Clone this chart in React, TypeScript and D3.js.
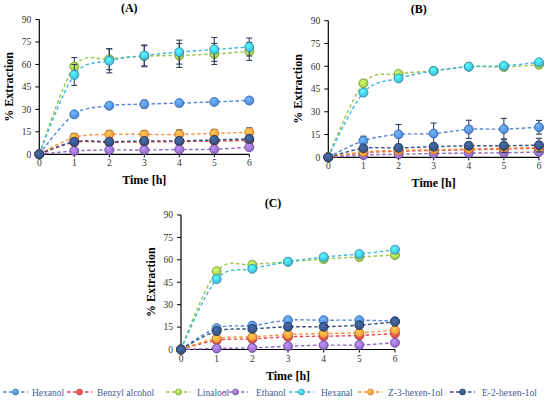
import * as d3 from 'd3';

const hours = [0, 1, 2, 3, 4, 5, 6];
const yTicks = [0, 15, 30, 45, 60, 75, 90];

const compounds = ['Hexanol', 'Benzyl alcohol', 'Linalool', 'Ethanol', 'Hexanal', 'Z-3-hexen-1ol', 'E-2-hexen-1ol'];
const fills = ['#4f86d9', '#e0474c', '#9cc84b', '#8f69c0', '#3fb8e0', '#f7953a', '#34507e'];
const edges = ['#34609f', '#a8343a', '#6f9530', '#654694', '#2a86a8', '#bd6a20', '#1f3150'];

// (A)
const hexanolA = [0, 26.7, 32.4, 33.5, 34.2, 35, 35.9];
const benzylA = [0, 8, 8, 8.3, 8.5, 8.8, 9.3];
const linaloolA = [0, 58.6, 63.5, 65.5, 66, 67, 68.7];
const ethanolA = [0, 2.2, 2.9, 2.9, 3.2, 3.4, 4.7];
const hexanalA = [0, 53, 62.4, 66, 68.2, 70, 71.6];
const z3A = [0, 11.3, 13.3, 13.3, 13.3, 14, 14.7];
const e2A = [0, 8.4, 8.4, 8.9, 9, 9.6, 10.3];

const hexanolErrA = [0, 1, 1, 2.5, 1, 1, 2];
const benzylErrA = [0, 1, 1, 1, 1, 1, 1];
const linaloolErrA = [0, 6, 7, 7, 8, 7, 6];
const ethanolErrA = [0, 0.5, 0.5, 0.5, 0.5, 0.5, 1];
const hexanalErrA = [0, 7, 8, 7, 8, 8, 6];
const z3ErrA = [0, 2.5, 2.5, 2.5, 3, 2.5, 3];
const e2ErrA = [0, 1.5, 1, 1, 1, 1, 1.5];

// (B)
const hexanolB = [0, 10.9, 15.1, 15.6, 18.4, 18.6, 19.8];
const benzylB = [0, 3, 4, 4.5, 5, 5.5, 6];
const linaloolB = [0, 48.7, 54.9, 56.9, 59.7, 59.5, 61];
const ethanolB = [0, 1.5, 2, 2.5, 2.8, 3, 3.5];
const hexanalB = [0, 42.6, 52, 56.9, 59.7, 60.3, 62.6];
const z3B = [0, 3.5, 4.5, 5, 5.5, 6, 6.5];
const e2B = [0, 5.9, 6.2, 7, 7.6, 7.6, 8];

const hexanolErrB = [0, 3, 6.5, 7, 6, 7, 4.5];
const benzylErrB = [0, 1, 1, 1, 1, 1, 1];
const linaloolErrB = [0, 2, 1.5, 1, 1.5, 1.5, 1.5];
const ethanolErrB = [0, 0.5, 0.5, 0.5, 0.5, 0.5, 0.5];
const hexanalErrB = [0, 2, 1.5, 1, 1.5, 1.5, 1.5];
const z3ErrB = [0, 1, 1, 1, 1, 1, 1];
const e2ErrB = [0, 1.5, 1.5, 2, 2, 4.5, 4.5];

// (C)
const hexanolC = [0, 14.3, 16, 19.6, 19.6, 19.6, 19];
const benzylC = [0, 6.2, 7.1, 8.5, 8.9, 9.4, 10.7];
const linaloolC = [0, 52.3, 56.7, 58.7, 60.5, 61.9, 63.2];
const ethanolC = [0, 0.7, 1.1, 2.2, 2.9, 3, 4.5];
const hexanalC = [0, 47.1, 54, 58.7, 61.9, 63.9, 66.8];
const z3C = [0, 7.4, 8.5, 10, 10.7, 11.2, 12.9];
const e2C = [0, 12.3, 13.8, 15.2, 15.2, 16.3, 18.5];

const hexanolErrC = [0, 1, 1, 1, 1, 1, 1];
const benzylErrC = [0, 1, 1, 1, 1, 1, 1];
const linaloolErrC = [0, 1, 1, 1, 1, 1, 1];
const ethanolErrC = [0, 0.5, 0.5, 0.5, 0.5, 0.5, 0.5];
const hexanalErrC = [0, 1, 1, 1, 1, 1, 1];
const z3ErrC = [0, 1, 1, 1, 1, 1, 1];
const e2ErrC = [0, 1, 1.5, 1, 1, 1, 1.5];

const serif = "'Liberation Serif', 'DejaVu Serif', serif";
const errColor = '#2f3f5e';

type Frame = { left: number; right: number; top: number; bottom: number };

interface PanelProps {
  title: string;
  frame: Frame;
  values: number[][];
  errors: number[][];
}

function Panel({ title, frame, values, errors }: PanelProps) {
  const x = d3.scaleLinear().domain([0, 6]).range([frame.left, frame.right]);
  const y = d3.scaleLinear().domain([0, 90]).range([frame.bottom, frame.top]);
  const line = d3
    .line<number>()
    .x((_, i) => x(hours[i]))
    .y((d) => y(d))
    .curve(d3.curveCardinal.tension(0));
  const midX = (frame.left + frame.right) / 2;
  const midY = (frame.top + frame.bottom) / 2;

  return (
    <g fontFamily={serif}>
      <text x={midX - 15} y={frame.top - 8} textAnchor="middle" fontWeight="bold" fontSize={12}>
        {title}
      </text>

      {/* axes */}
      <line x1={frame.left} x2={frame.left} y1={y(90)} y2={y(0)} stroke="#000" strokeWidth={1.2} />
      <line x1={frame.left} x2={x(6)} y1={y(0)} y2={y(0)} stroke="#000" strokeWidth={1.2} />
      {yTicks.map((t) => (
        <g key={t}>
          <line x1={frame.left - 4} x2={frame.left} y1={y(t)} y2={y(t)} stroke="#000" />
          <text x={frame.left - 8} y={y(t) + 3.3} textAnchor="end" fontSize={9.5} fill="#333">
            {t}
          </text>
        </g>
      ))}
      {hours.map((h) => (
        <g key={h}>
          <line x1={x(h)} x2={x(h)} y1={y(0)} y2={y(0) + 3} stroke="#000" />
          <text x={x(h)} y={y(0) + 12} textAnchor="middle" fontSize={9.5} fill="#333">
            {h}
          </text>
        </g>
      ))}
      <text x={midX} y={y(0) + 30} textAnchor="middle" fontWeight="bold" fontSize={12}>
        Time [h]
      </text>
      <text
        transform={`translate(${frame.left - 26},${midY}) rotate(-90)`}
        textAnchor="middle"
        fontWeight="bold"
        fontSize={12}
      >
        % Extraction
      </text>

      {/* series */}
      {values.map((vals, s) => (
        <g key={compounds[s]}>
          <path d={line(vals) ?? ''} fill="none" stroke={fills[s]} strokeWidth={1.4} strokeDasharray="3.5,2.5" />
          {vals.map((v, i) =>
            errors[s][i] > 0 ? (
              <g key={i} stroke={errColor} strokeWidth={1.1}>
                <line x1={x(hours[i])} x2={x(hours[i])} y1={y(v - errors[s][i])} y2={y(v + errors[s][i])} />
                <line x1={x(hours[i]) - 3} x2={x(hours[i]) + 3} y1={y(v + errors[s][i])} y2={y(v + errors[s][i])} />
                <line x1={x(hours[i]) - 3} x2={x(hours[i]) + 3} y1={y(v - errors[s][i])} y2={y(v - errors[s][i])} />
              </g>
            ) : null
          )}
          {vals.map((v, i) => (
            <circle
              key={i}
              cx={x(hours[i])}
              cy={y(v)}
              r={4.5}
              fill={`url(#grad${s})`}
              stroke={edges[s]}
              strokeWidth={0.8}
            />
          ))}
        </g>
      ))}
    </g>
  );
}

const legendSymbolX = [3, 67, 166, 223, 289, 358, 450];
const legendTextX = [32, 97, 197, 256, 321, 388, 482];

export default function App() {
  const panelA = [hexanolA, benzylA, linaloolA, ethanolA, hexanalA, z3A, e2A];
  const errA = [hexanolErrA, benzylErrA, linaloolErrA, ethanolErrA, hexanalErrA, z3ErrA, e2ErrA];
  const panelB = [hexanolB, benzylB, linaloolB, ethanolB, hexanalB, z3B, e2B];
  const errB = [hexanolErrB, benzylErrB, linaloolErrB, ethanolErrB, hexanalErrB, z3ErrB, e2ErrB];
  const panelC = [hexanolC, benzylC, linaloolC, ethanolC, hexanalC, z3C, e2C];
  const errC = [hexanolErrC, benzylErrC, linaloolErrC, ethanolErrC, hexanalErrC, z3ErrC, e2ErrC];

  return (
    <div style={{ position: 'absolute', left: 0, top: 0 }}>
      <svg width={550} height={405} style={{ display: 'block', background: '#fff' }}>
        <defs>
          {fills.map((c, i) => (
            <radialGradient key={i} id={`grad${i}`} cx="40%" cy="35%" r="65%">
              <stop offset="0%" stopColor={d3.color(c)!.brighter(0.9).formatHex()} />
              <stop offset="100%" stopColor={c} />
            </radialGradient>
          ))}
        </defs>
        <Panel title="(A)" frame={{ left: 39.3, right: 249.3, top: 19.5, bottom: 154.3 }} values={panelA} errors={errA} />
        <Panel title="(B)" frame={{ left: 328.3, right: 539, top: 20.7, bottom: 157.3 }} values={panelB} errors={errB} />
        <Panel title="(C)" frame={{ left: 181, right: 395, top: 215, bottom: 349.5 }} values={panelC} errors={errC} />

        <g fontFamily={serif}>
          {compounds.map((name, i) => (
            <g key={name}>
              <line
                x1={legendSymbolX[i]}
                x2={legendSymbolX[i] + 25}
                y1={392}
                y2={392}
                stroke={fills[i]}
                strokeWidth={1.4}
                strokeDasharray="3.5,2.5"
              />
              <circle cx={legendSymbolX[i] + 12.5} cy={392} r={3} fill={`url(#grad${i})`} stroke={edges[i]} strokeWidth={0.6} />
              <text x={legendTextX[i]} y={395.5} fontSize={9.5} fill="#3d5a96">
                {name}
              </text>
            </g>
          ))}
        </g>
      </svg>
    </div>
  );
}
